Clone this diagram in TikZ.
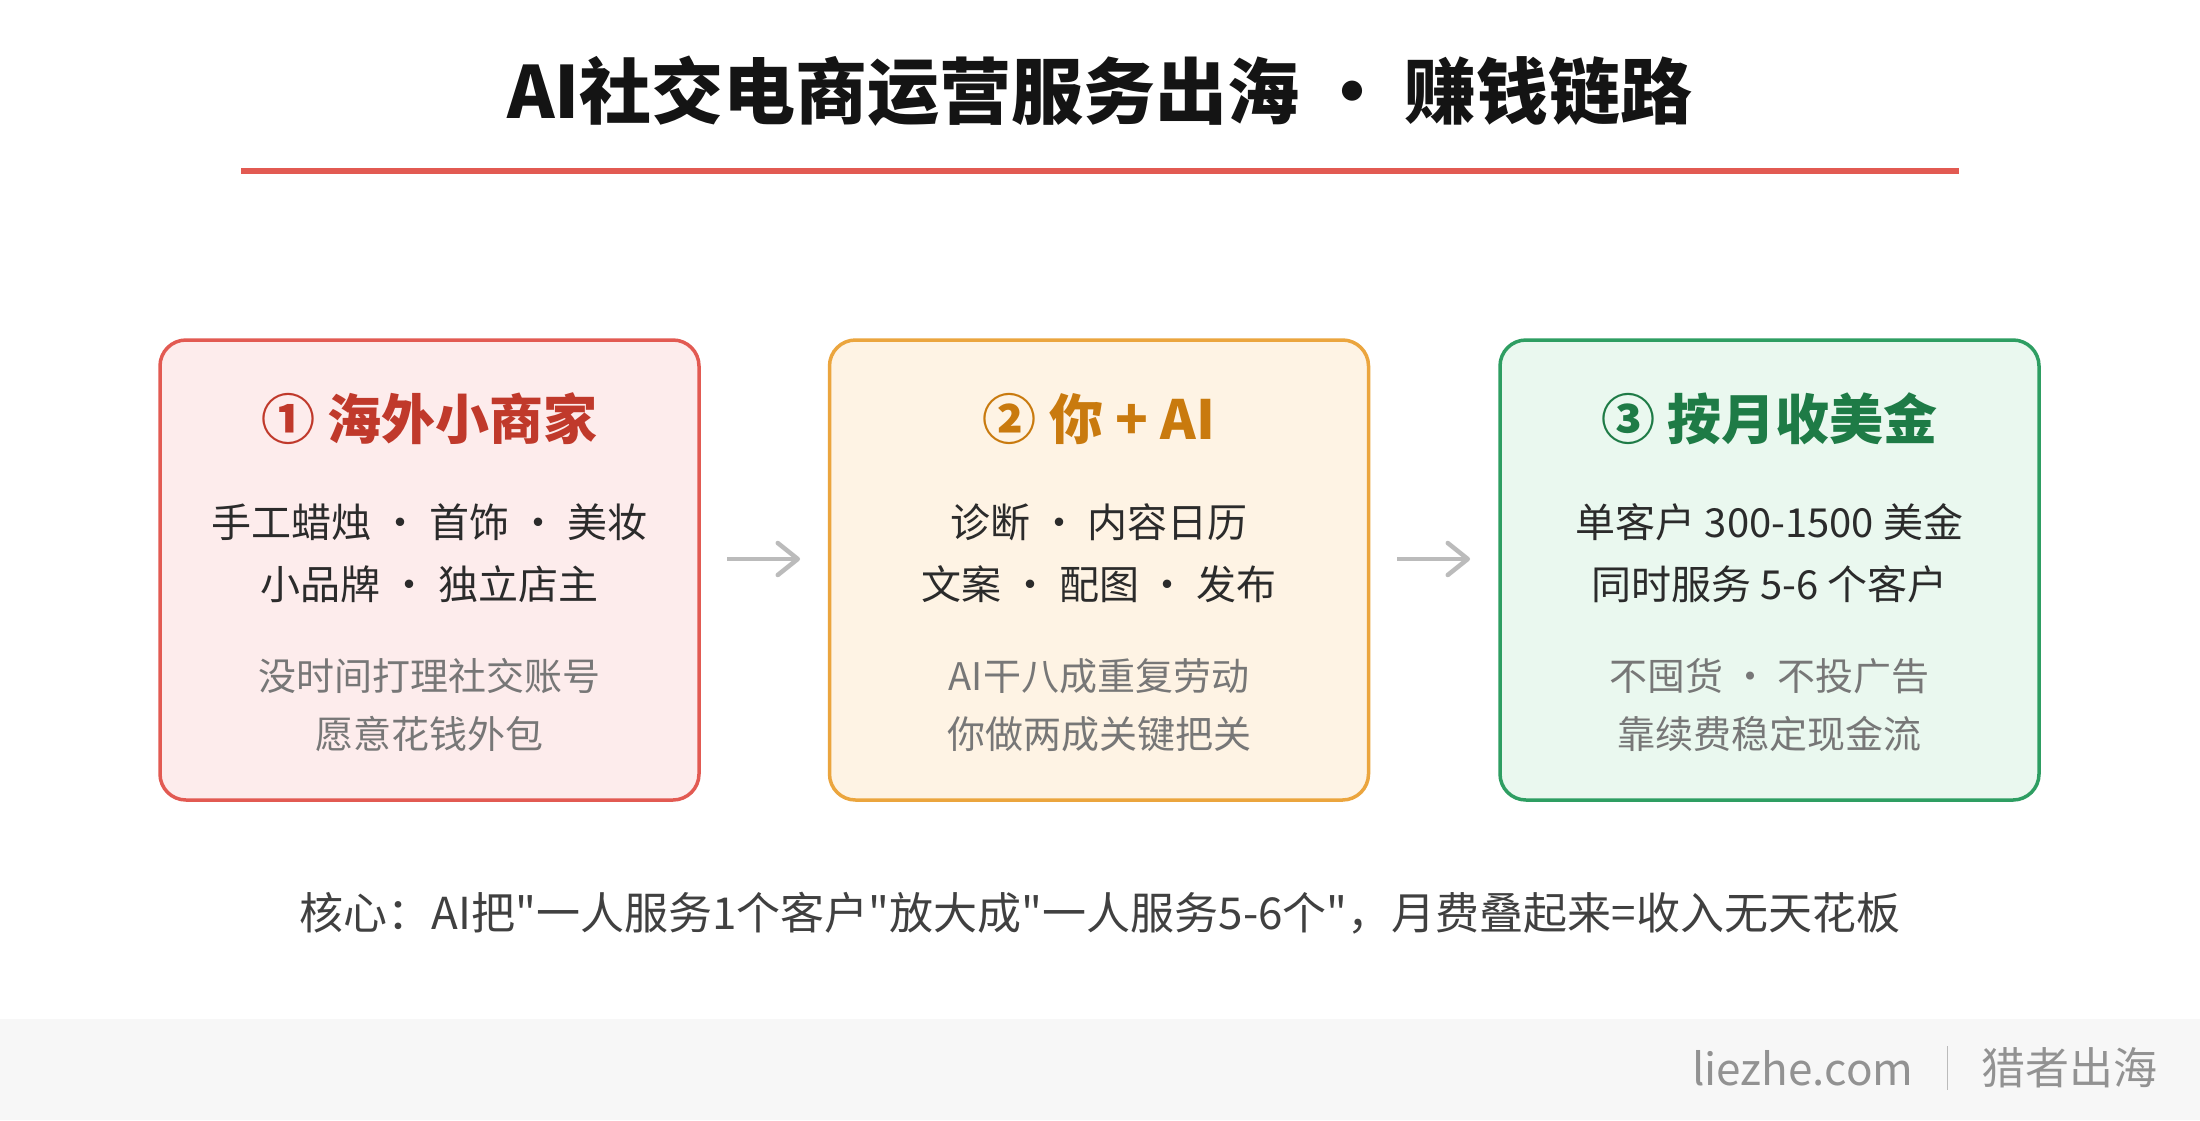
\documentclass[tikz,border=0pt]{standalone}
\usepackage{fontspec}
\setmainfont{Noto Sans CJK SC}
\newfontfamily\plainf{Noto Sans CJK SC}
\usetikzlibrary{arrows.meta}
\definecolor{redB}{HTML}{E25A52}
\definecolor{redF}{HTML}{FDECEC}
\definecolor{redT}{HTML}{C0392B}
\definecolor{orgB}{HTML}{EBA53E}
\definecolor{orgF}{HTML}{FEF3E4}
\definecolor{orgT}{HTML}{C97A0E}
\definecolor{grnB}{HTML}{2E9E62}
\definecolor{grnF}{HTML}{EAF8EF}
\definecolor{grnT}{HTML}{1E7B46}
\definecolor{txt}{HTML}{2B2B2B}
\definecolor{sub}{HTML}{777777}
\definecolor{foot}{HTML}{F7F7F7}
\definecolor{arr}{HTML}{BBBBBB}
\tikzset{
  card/.style={draw=#1B, fill=#1F, line width=3.5pt, rounded corners=26pt, minimum width=539pt, minimum height=460pt, inner sep=0pt},
  cardtitle/.style={text=#1T, font=\fontsize{54}{60}\selectfont\bfseries, anchor=center},
  mainline/.style={text=txt, font=\fontsize{40}{46}\selectfont, anchor=center},
  subline/.style={text=sub, font=\fontsize{38}{44}\selectfont, anchor=center},
  flow/.style={draw=arr, line width=4.5pt, -{Straight Barb[length=20pt,width=32pt,line width=4.5pt,round]}},
  foottext/.style={anchor=east, inner sep=0pt, text=sub!80, font=\fontsize{44}{50}\selectfont},
}
\begin{document}
\begin{tikzpicture}[x=1pt,y=-1pt]
\useasboundingbox (0,0) rectangle (2200,1120);
\fill[white] (0,0) rectangle (2200,1120);
\fill[foot] (0,1019) rectangle (2200,1120);
% title
\node[font=\fontsize{72}{80}\selectfont\bfseries, text=black!92] (title) at (1100,91) {AI社交电商运营服务出海 · 赚钱链路};
\fill[redB] (241,168) rectangle (1959,174);
% cards
\node[card=red] (c1) at (429.5,570) {};
\node[card=org] (c2) at (1099,570) {};
\node[card=grn] (c3) at (1769.5,570) {};
% card 1
\node[cardtitle=red] (t1) at (429.5,419) {① 海外小商家};
\node[mainline] (a1) at (429.5,522) {手工蜡烛 · 首饰 · 美妆};
\node[mainline] (b1) at (429.5,584) {小品牌 · 独立店主};
\node[subline] (s1) at (429.5,676) {没时间打理社交账号};
\node[subline] (r1) at (429.5,734) {愿意花钱外包};
% card 2
\node[cardtitle=org] (t2) at (1099,419) {② 你 + AI};
\node[mainline] (a2) at (1099,522) {诊断 · 内容日历};
\node[mainline] (b2) at (1099,584) {文案 · 配图 · 发布};
\node[subline] (s2) at (1099,676) {AI干八成重复劳动};
\node[subline] (r2) at (1099,734) {你做两成关键把关};
% card 3
\node[cardtitle=grn] (t3) at (1769.5,419) {③ 按月收美金};
\node[mainline] (a3) at (1769.5,522) {单客户 300-1500 美金};
\node[mainline] (b3) at (1769.5,584) {同时服务 5-6 个客户};
\node[subline] (s3) at (1769.5,676) {不囤货 · 不投广告};
\node[subline] (r3) at (1769.5,734) {靠续费稳定现金流};
% arrows
\coordinate (p1) at (727,559);
\coordinate (p2) at (800,559);
\coordinate (p3) at (1397,559);
\coordinate (p4) at (1470,559);
\draw[flow] (p1) -- (p2);
\draw[flow] (p3) -- (p4);
% core
\node[text=txt!90, font=\plainf\fontsize{44}{50}\selectfont] (core) at (1100,913) {核心：AI把"一人服务1个客户"放大成"一人服务5-6个"，月费叠起来=收入无天花板};
% footer
\node[foottext] (brand) at (2158,1068) {猎者出海};
\coordinate (d1) at ([xshift=-34pt]brand.west |- 0,1046);
\coordinate (d2) at ([xshift=-34pt]brand.west |- 0,1090);
\draw[draw=sub!50, line width=1.5pt] (d1) -- (d2);
\node[foottext] (site) at ([xshift=-68pt]brand.west) {liezhe.com};
\end{tikzpicture}
\end{document}
